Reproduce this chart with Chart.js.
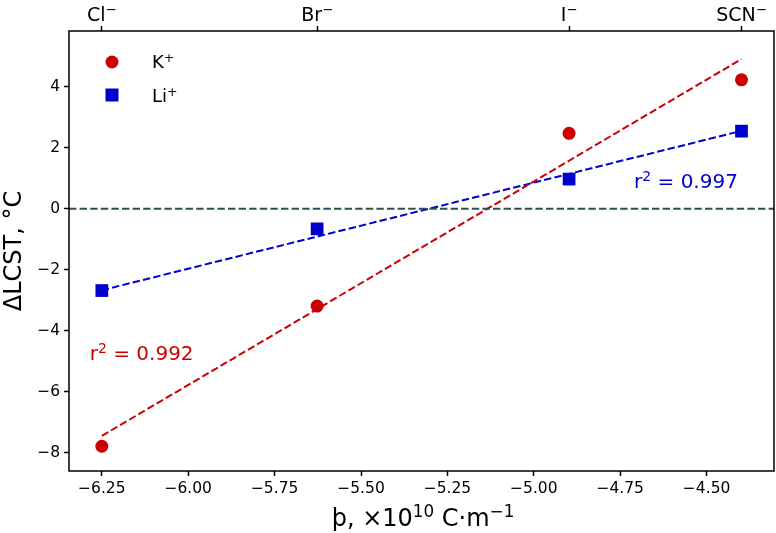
<!DOCTYPE html>
<html>
<head>
<meta charset="utf-8">
<script src="https://cdn.jsdelivr.net/npm/chart.js@4"></script>
<style>
  html, body { margin: 0; padding: 0; background: #fff; }
  #wrap { width: 776px; height: 533px; }
</style>
</head>
<body>
<div id="wrap"><canvas id="lcstChart" width="776" height="533"></canvas></div>
<script>
// anion positions on the x axis (x10^10 C/m) and their labels on top
var anions = ["Cl", "Br", "I", "SCN"];
var anionX = [-6.25, -5.627, -4.898, -4.399];

// measured shifts of LCST
var kValues = [-7.78, -3.19, 2.47, 4.22];
var liValues = [-2.68, -0.66, 0.97, 2.54];

// linear fit end points (at first and last anion)
var kFit = [-7.44, 4.90];
var liFit = [-2.67, 2.55];

var kR2 = "0.992";
var liR2 = "0.997";

var xMin = -6.345, xMax = -4.305;
var yMin = -8.59, yMax = 5.82;
var xTicks = [-6.25, -6.0, -5.75, -5.5, -5.25, -5.0, -4.75, -4.5];
var yTicks = [-8, -6, -4, -2, 0, 2, 4];

var RED = "#cc0000", BLUE = "#0000cc", GREY = "#2f4f4f";
var FONT = "'DejaVu Sans', sans-serif";
var DASH = [7.4, 3.2];

function minus(s) { return String(s).replace("-", "\u2212"); }

function pts(xs, ys) {
  return xs.map(function (x, i) { return { x: x, y: ys[i] }; });
}

// text with superscripts: parts = [[text, isSup], ...]
function drawRich(c, parts, x, y, size, align) {
  var sub = size * 0.7;
  var w = 0;
  parts.forEach(function (p) {
    c.font = (p[1] ? sub : size) + "px " + FONT;
    p.w = c.measureText(p[0]).width;
    w += p.w;
  });
  var cx = align === "center" ? x - w / 2 : x;
  c.textAlign = "left";
  c.textBaseline = "alphabetic";
  parts.forEach(function (p) {
    c.font = (p[1] ? sub : size) + "px " + FONT;
    c.fillText(p[0], cx, p[1] ? y - size * 0.36 : y);
    cx += p.w;
  });
}

var framePlugin = {
  id: "frame",
  afterDraw: function (chart) {
    var c = chart.ctx, a = chart.chartArea;
    var xs = chart.scales.x, ys = chart.scales.y, xt = chart.scales.x2;
    c.save();
    c.strokeStyle = "#000";
    c.lineWidth = 1.5;
    c.strokeRect(a.left, a.top, a.right - a.left, a.bottom - a.top);

    // anion labels on top axis
    c.fillStyle = "#000";
    anions.forEach(function (n, i) {
      drawRich(c, [[n, false], ["\u2212", true]], xt.getPixelForValue(anionX[i]), 21, 19, "center");
    });

    // x axis title
    drawRich(c, [["\u00FE, \u00D710", false], ["10", true], [" C\u00B7m", false], ["\u22121", true]],
      423, 526, 24, "center");

    // legend
    c.fillStyle = RED;
    c.beginPath();
    c.arc(112, 62, 6.5, 0, Math.PI * 2);
    c.fill();
    c.fillStyle = BLUE;
    c.fillRect(105.5, 88.5, 13, 13);
    c.fillStyle = "#000";
    drawRich(c, [["K", false], ["+", true]], 152, 68, 18, "left");
    drawRich(c, [["Li", false], ["+", true]], 152, 102, 18, "left");

    // r^2 annotations
    c.fillStyle = BLUE;
    drawRich(c, [["r", false], ["2", true], [" = " + liR2, false]], xs.getPixelForValue(-4.71), ys.getPixelForValue(0.67), 20, "left");
    c.fillStyle = RED;
    drawRich(c, [["r", false], ["2", true], [" = " + kR2, false]], xs.getPixelForValue(-6.285), ys.getPixelForValue(-4.96), 20, "left");
    c.restore();
  }
};

var tickGrid = {
  display: true,
  drawOnChartArea: false,
  drawTicks: true,
  tickLength: 5,
  tickWidth: 1.5,
  color: "#000"
};

new Chart(document.getElementById("lcstChart"), {
  type: "scatter",
  data: {
    datasets: [
      {
        label: "zero",
        data: [{ x: xMin, y: 0 }, { x: xMax, y: 0 }],
        showLine: true,
        borderColor: GREY,
        borderWidth: 2,
        borderDash: DASH,
        pointRadius: 0
      },
      {
        label: "K fit",
        data: pts([anionX[0], anionX[3]], kFit),
        showLine: true,
        borderColor: RED,
        borderWidth: 2,
        borderDash: DASH,
        pointRadius: 0
      },
      {
        label: "Li fit",
        data: pts([anionX[0], anionX[3]], liFit),
        showLine: true,
        borderColor: BLUE,
        borderWidth: 2,
        borderDash: DASH,
        pointRadius: 0
      },
      {
        label: "K\u207A",
        data: pts(anionX, kValues),
        backgroundColor: RED,
        borderColor: RED,
        borderWidth: 0,
        pointStyle: "circle",
        pointRadius: 6.5
      },
      {
        label: "Li\u207A",
        data: pts(anionX, liValues),
        backgroundColor: BLUE,
        borderColor: BLUE,
        borderWidth: 0,
        pointStyle: "rect",
        pointRadius: 9
      }
    ]
  },
  options: {
    responsive: false,
    animation: false,
    layout: { autoPadding: false, padding: { left: 0, right: 2, top: 0, bottom: 0 } },
    plugins: {
      legend: { display: false },
      tooltip: { enabled: false }
    },
    scales: {
      x: {
        type: "linear",
        position: "bottom",
        min: xMin,
        max: xMax,
        afterBuildTicks: function (s) { s.ticks = xTicks.map(function (v) { return { value: v }; }); },
        afterFit: function (s) { s.height = 62; },
        grid: tickGrid,
        border: { display: false },
        ticks: {
          color: "#000",
          font: { family: FONT, size: 15.5 },
          padding: 4,
          maxRotation: 0,
          callback: function (v) { return minus(Number(v).toFixed(2)); }
        }
      },
      x2: {
        type: "linear",
        position: "top",
        min: xMin,
        max: xMax,
        afterBuildTicks: function (s) { s.ticks = anionX.map(function (v) { return { value: v }; }); },
        afterFit: function (s) { s.height = 31; },
        grid: tickGrid,
        border: { display: false },
        ticks: { display: false }
      },
      y: {
        type: "linear",
        position: "left",
        min: yMin,
        max: yMax,
        afterBuildTicks: function (s) { s.ticks = yTicks.map(function (v) { return { value: v }; }); },
        afterFit: function (s) { s.width = 69; },
        grid: tickGrid,
        border: { display: false },
        ticks: {
          color: "#000",
          font: { family: FONT, size: 15.5 },
          padding: 4,
          callback: function (v) { return minus(v); }
        },
        title: {
          display: true,
          text: "\u0394LCST, \u00B0C",
          color: "#000",
          font: { family: FONT, size: 24 },
          padding: { top: 0, bottom: 1 }
        }
      }
    }
  },
  plugins: [framePlugin]
});
</script>
</body>
</html>
